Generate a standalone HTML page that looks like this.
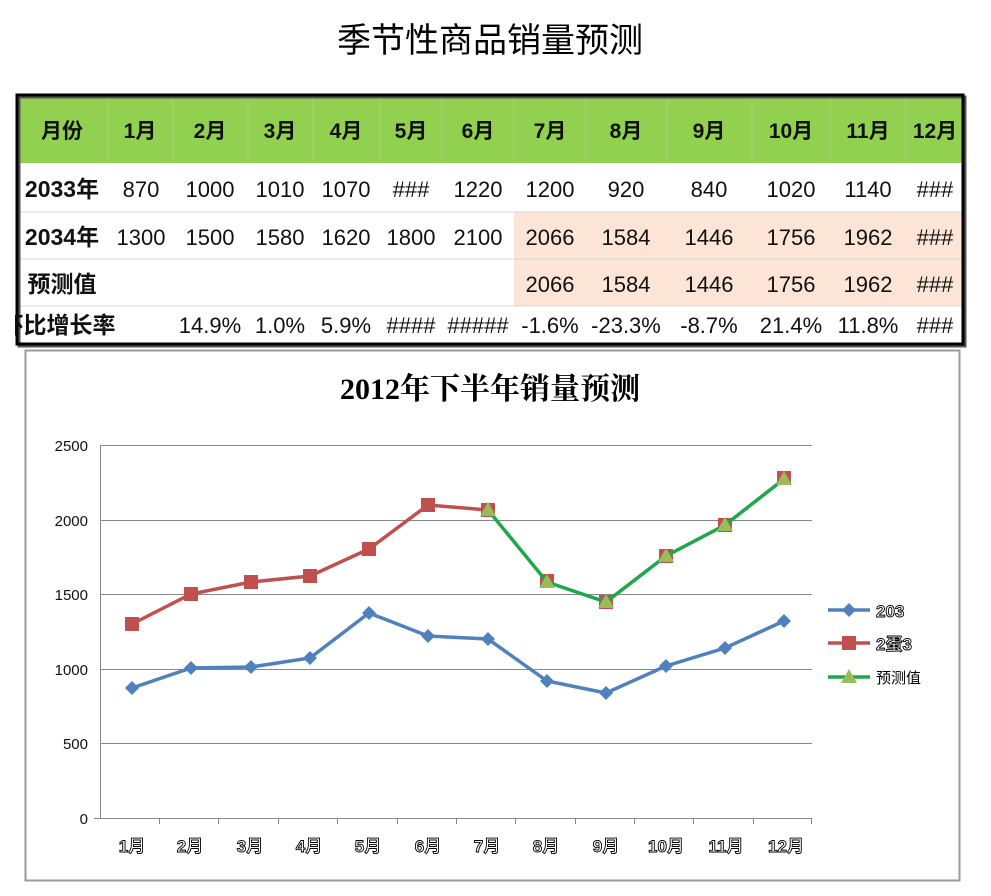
<!DOCTYPE html>
<html><head><meta charset="utf-8"><style>
html,body{margin:0;padding:0;background:#fff;width:991px;height:896px;overflow:hidden}
svg{display:block}
text{font-family:"Liberation Sans","Noto Sans CJK SC",sans-serif}
</style></head><body>
<svg width="991" height="896" viewBox="0 0 991 896" xmlns="http://www.w3.org/2000/svg">
<text x="490" y="52" font-size="34" text-anchor="middle" fill="#000">季节性商品销量预测</text>
<rect x="17" y="95" width="946" height="68" fill="#92d050"/>
<rect x="514" y="212" width="449" height="94" fill="#fce4d6"/>
<g stroke="#d9d9d9" stroke-width="1">
<line x1="17" y1="212" x2="963" y2="212"/><line x1="17" y1="259" x2="963" y2="259"/><line x1="17" y1="306" x2="963" y2="306"/>
</g>
<g stroke="#a9cf80" stroke-width="1">
<line x1="108" y1="95" x2="108" y2="163"/><line x1="173" y1="95" x2="173" y2="163"/><line x1="248" y1="95" x2="248" y2="163"/><line x1="313" y1="95" x2="313" y2="163"/><line x1="380" y1="95" x2="380" y2="163"/><line x1="442" y1="95" x2="442" y2="163"/><line x1="514" y1="95" x2="514" y2="163"/><line x1="586" y1="95" x2="586" y2="163"/><line x1="667" y1="95" x2="667" y2="163"/><line x1="752" y1="95" x2="752" y2="163"/><line x1="830" y1="95" x2="830" y2="163"/><line x1="906" y1="95" x2="906" y2="163"/>
</g>
<rect x="19" y="97" width="946" height="249" fill="none" stroke="#555" stroke-width="3"/>
<rect x="17" y="95" width="946" height="249" fill="none" stroke="#000" stroke-width="3"/>
<g font-size="21" font-weight="bold" text-anchor="middle" fill="#111">
<text x="62" y="138">月份</text><text x="140" y="138">1月</text><text x="210" y="138">2月</text><text x="280" y="138">3月</text><text x="346" y="138">4月</text><text x="411" y="138">5月</text><text x="478" y="138">6月</text><text x="550" y="138">7月</text><text x="626" y="138">8月</text><text x="709" y="138">9月</text><text x="791" y="138">10月</text><text x="868" y="138">11月</text><text x="935" y="138">12月</text>
</g>
<g font-size="23" font-weight="bold" text-anchor="middle" fill="#111">
<text x="62" y="197">2033年</text><text x="62" y="245">2034年</text><text x="62" y="292">预测值</text><text x="58" y="333">环比增长率</text>
</g>
<rect x="0" y="310" width="15" height="30" fill="#fff"/>
<g font-size="22" text-anchor="middle" fill="#111">
<text x="141" y="197">870</text><text x="210" y="197">1000</text><text x="280" y="197">1010</text><text x="346" y="197">1070</text><text x="411" y="197">###</text><text x="478" y="197">1220</text><text x="550" y="197">1200</text><text x="626" y="197">920</text><text x="709" y="197">840</text><text x="791" y="197">1020</text><text x="868" y="197">1140</text><text x="935" y="197">###</text>
<text x="141" y="245">1300</text><text x="210" y="245">1500</text><text x="280" y="245">1580</text><text x="346" y="245">1620</text><text x="411" y="245">1800</text><text x="478" y="245">2100</text><text x="550" y="245">2066</text><text x="626" y="245">1584</text><text x="709" y="245">1446</text><text x="791" y="245">1756</text><text x="868" y="245">1962</text><text x="935" y="245">###</text>
<text x="550" y="292">2066</text><text x="626" y="292">1584</text><text x="709" y="292">1446</text><text x="791" y="292">1756</text><text x="868" y="292">1962</text><text x="935" y="292">###</text>
<text x="210" y="333">14.9%</text><text x="280" y="333">1.0%</text><text x="346" y="333">5.9%</text><text x="411" y="333">####</text><text x="478" y="333">#####</text><text x="550" y="333">-1.6%</text><text x="626" y="333">-23.3%</text><text x="709" y="333">-8.7%</text><text x="791" y="333">21.4%</text><text x="868" y="333">11.8%</text><text x="935" y="333">###</text>
</g>
<rect x="25.5" y="350.5" width="934" height="530" fill="#fff" stroke="#9a9a9a" stroke-width="2"/>
<text x="490" y="399" font-size="30" font-weight="bold" text-anchor="middle" style="font-family:'Liberation Serif','Noto Serif CJK SC',serif">2012年下半年销量预测</text>
<g stroke="#888" stroke-width="1">
<line x1="100" y1="445.5" x2="812" y2="445.5"/><line x1="100" y1="520.5" x2="812" y2="520.5"/><line x1="100" y1="594.5" x2="812" y2="594.5"/><line x1="100" y1="669.5" x2="812" y2="669.5"/><line x1="100" y1="743.5" x2="812" y2="743.5"/>
<line x1="100.5" y1="445" x2="100.5" y2="818"/><line x1="94" y1="818.5" x2="812" y2="818.5"/>
</g>
<g stroke="#888">
<line x1="159.5" y1="818" x2="159.5" y2="824"/><line x1="218.5" y1="818" x2="218.5" y2="824"/><line x1="278.5" y1="818" x2="278.5" y2="824"/><line x1="337.5" y1="818" x2="337.5" y2="824"/><line x1="397.5" y1="818" x2="397.5" y2="824"/><line x1="456.5" y1="818" x2="456.5" y2="824"/><line x1="515.5" y1="818" x2="515.5" y2="824"/><line x1="575.5" y1="818" x2="575.5" y2="824"/><line x1="634.5" y1="818" x2="634.5" y2="824"/><line x1="693.5" y1="818" x2="693.5" y2="824"/><line x1="753.5" y1="818" x2="753.5" y2="824"/><line x1="811.5" y1="818" x2="811.5" y2="824"/>
</g>
<g font-size="15" text-anchor="end" fill="#111">
<text x="88" y="451">2500</text><text x="88" y="526">2000</text><text x="88" y="600">1500</text><text x="88" y="675">1000</text><text x="88" y="749">500</text><text x="88" y="824">0</text>
</g>
<g font-size="17" font-weight="bold" text-anchor="middle" fill="#fff" stroke="#000" stroke-width="0.9">
<text x="132" y="852">1月</text><text x="190" y="852">2月</text><text x="250" y="852">3月</text><text x="309" y="852">4月</text><text x="368" y="852">5月</text><text x="428" y="852">6月</text><text x="487" y="852">7月</text><text x="546" y="852">8月</text><text x="606" y="852">9月</text><text x="666" y="852">10月</text><text x="726" y="852">11月</text><text x="786" y="852">12月</text>
</g>
<polyline fill="none" stroke="#4f81bd" stroke-width="3.5" points="132,688 191,668 251,667 310,658 369,613 428,636 488,639 547,681 606,693 666,666 725,648 784,621"/>
<g fill="#4f81bd">
<path d="M132,681l7,7l-7,7l-7,-7z"/><path d="M191,661l7,7l-7,7l-7,-7z"/><path d="M251,660l7,7l-7,7l-7,-7z"/><path d="M310,651l7,7l-7,7l-7,-7z"/><path d="M369,606l7,7l-7,7l-7,-7z"/><path d="M428,629l7,7l-7,7l-7,-7z"/><path d="M488,632l7,7l-7,7l-7,-7z"/><path d="M547,674l7,7l-7,7l-7,-7z"/><path d="M606,686l7,7l-7,7l-7,-7z"/><path d="M666,659l7,7l-7,7l-7,-7z"/><path d="M725,641l7,7l-7,7l-7,-7z"/><path d="M784,614l7,7l-7,7l-7,-7z"/>
</g>
<polyline fill="none" stroke="#c0504d" stroke-width="3.5" points="132,624 191,594 251,582 310,576 369,549 428,505 488,510"/>
<g fill="#c0504d">
<rect x="125" y="617" width="14" height="14"/><rect x="184" y="587" width="14" height="14"/><rect x="244" y="575" width="14" height="14"/><rect x="303" y="569" width="14" height="14"/><rect x="362" y="542" width="14" height="14"/><rect x="421" y="498" width="14" height="14"/><rect x="481" y="503" width="14" height="14"/><rect x="540" y="574" width="14" height="14"/><rect x="599" y="595" width="14" height="14"/><rect x="659" y="549" width="14" height="14"/><rect x="718" y="518" width="14" height="14"/><rect x="777" y="471" width="14" height="14"/>
</g>
<polyline fill="none" stroke="#1fa84b" stroke-width="3.5" points="488,510 547,582 606,602 666,556 725,525 784,479"/>
<g fill="#9bbb59">
<path d="M488,502l8,14h-16z"/><path d="M547,574l8,14h-16z"/><path d="M606,594l8,14h-16z"/><path d="M666,548l8,14h-16z"/><path d="M725,517l8,14h-16z"/><path d="M784,471l8,14h-16z"/>
</g>
<line x1="828" y1="610" x2="870" y2="610" stroke="#4f81bd" stroke-width="3.5"/><path d="M849,603l7,7l-7,7l-7,-7z" fill="#4f81bd"/>
<line x1="828" y1="643" x2="870" y2="643" stroke="#c0504d" stroke-width="3.5"/><rect x="842" y="636" width="14" height="14" fill="#c0504d"/>
<line x1="828" y1="677" x2="870" y2="677" stroke="#1fa84b" stroke-width="3.5"/><path d="M849,669l8,14h-16z" fill="#9bbb59"/>
<g font-size="17" font-weight="bold" fill="#fff" stroke="#000" stroke-width="0.9">
<text x="876" y="617">203</text><text x="876" y="650">2蛋3</text>
</g>
<text x="876" y="683" font-size="15" fill="#000">预测值</text>
</svg>
</body></html>
